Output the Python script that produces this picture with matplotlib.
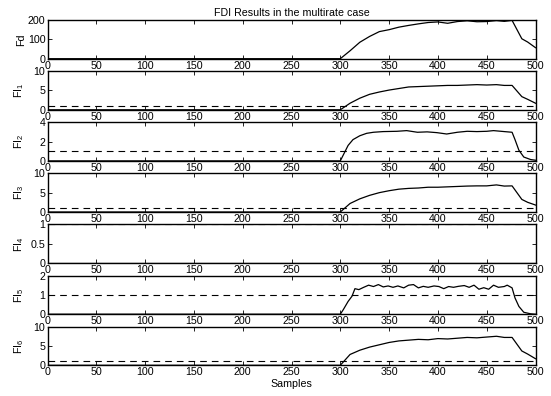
import numpy as np
import matplotlib
matplotlib.use('Agg')
import matplotlib.pyplot as plt

plt.rcParams['font.family'] = ['Liberation Sans', 'DejaVu Sans']
plt.rcParams['mathtext.default'] = 'regular'

# Samples (x) and values
x_a = [0, 300, 310, 320, 330, 340, 350, 360, 370, 380, 390, 400, 410, 420,
       430, 440, 450, 460, 468, 476, 486, 492, 500]
fd = [0, 0, 41, 85, 115, 140, 150, 163, 172, 180, 187, 190, 183, 192,
      196, 191, 192, 197, 193, 198, 103, 86, 57]
fi1 = [0, 0, 1.7, 3.0, 4.0, 4.6, 5.1, 5.5, 5.9, 6.0, 6.1, 6.2, 6.3, 6.3,
       6.4, 6.5, 6.4, 6.5, 6.3, 6.3, 3.4, 2.7, 1.7]
fi3 = [0, 0, 2.2, 3.4, 4.3, 5.0, 5.5, 5.9, 6.1, 6.2, 6.4, 6.4, 6.5, 6.6,
       6.7, 6.75, 6.75, 7.0, 6.7, 6.75, 3.25, 2.5, 1.8]
fi6 = [0, 0, 2.8, 3.9, 4.7, 5.3, 5.9, 6.3, 6.5, 6.7, 6.6, 6.9, 6.8, 7.0,
       7.2, 7.1, 7.3, 7.5, 7.2, 7.2, 3.7, 2.9, 1.7]

x_b = [0, 300, 303, 308, 313, 320, 327, 334, 344, 358, 368, 379, 389, 399,
       409, 420, 430, 440, 450, 457, 468, 476, 479, 483, 488, 495, 500]
fi2 = [0, 0, 0.6, 1.6, 2.2, 2.6, 2.85, 2.96, 3.03, 3.06, 3.13, 2.96, 3.0, 2.92,
       2.78, 2.96, 3.06, 3.03, 3.06, 3.13, 3.03, 2.96, 2.2, 1.1, 0.4, 0.14, 0.07]

x_c = [0, 300, 303, 308, 312, 315, 319, 324, 329, 334, 339, 344, 349, 354,
       359, 365, 370, 375, 380, 385, 390, 396, 401, 406, 411, 416, 421, 427,
       432, 437, 442, 447, 452, 457, 462, 468, 471, 476, 479, 483, 488, 495, 500]
fi5 = [0, 0, 0.23, 0.66, 0.93, 1.32, 1.27, 1.39, 1.50, 1.43, 1.53, 1.41, 1.46, 1.39,
       1.46, 1.36, 1.50, 1.53, 1.36, 1.44, 1.39, 1.46, 1.43, 1.32, 1.43, 1.39, 1.44, 1.48,
       1.39, 1.50, 1.29, 1.37, 1.29, 1.50, 1.39, 1.43, 1.50, 1.36, 0.84, 0.40, 0.10, 0.02, 0]

x_d = [0, 500]
fi4 = [0, 0]

threshold = 1
xticks = [0, 50, 100, 150, 200, 250, 300, 350, 400, 450, 500]

panels = [
    (x_a, fd, 'Fd', [0, 100, 200], False),
    (x_a, fi1, 'FI$_1$', [0, 5, 10], True),
    (x_b, fi2, 'FI$_2$', [0, 2, 4], True),
    (x_a, fi3, 'FI$_3$', [0, 5, 10], True),
    (x_d, fi4, 'FI$_4$', [0, 0.5, 1], True),
    (x_c, fi5, 'FI$_5$', [0, 1, 2], True),
    (x_a, fi6, 'FI$_6$', [0, 5, 10], True),
]

W, H = 551, 396
fig = plt.figure(figsize=(W / 100, H / 100), dpi=100)

left, right = 47.5, 535.5
top0, pitch, h = 20, 51.1, 38.7

axes = []
for i, (xs, ys, lab, yt, dash) in enumerate(panels):
    top = top0 + pitch * i
    ax = fig.add_axes([left / W, 1 - (top + h) / H, (right - left) / W, h / H])
    ax.plot(xs, ys, color='black', linewidth=0.9)
    if dash:
        ax.axhline(threshold, color='black', linewidth=0.8, linestyle=(0, (6, 4.5)))
    ax.set_xlim(0, 500)
    ax.set_ylim(yt[0], yt[-1])
    ax.set_xticks(xticks)
    ax.set_yticks(yt)
    ax.set_yticklabels([('%g' % v) for v in yt])
    ax.tick_params(direction='in', top=True, right=True, length=3, width=0.6,
                   labelsize=7.7, pad=1.5)
    for s in ax.spines.values():
        s.set_linewidth(1.0)
    ax.set_ylabel(lab, fontsize=7.7)
    ax.yaxis.set_label_coords(-0.044, 0.5)
    axes.append(ax)

axes[0].set_title('FDI Results in the multirate case', fontsize=7.7, pad=3)
axes[-1].set_xlabel('Samples', fontsize=7.7, labelpad=1)

plt.savefig('out.png', dpi=100)
